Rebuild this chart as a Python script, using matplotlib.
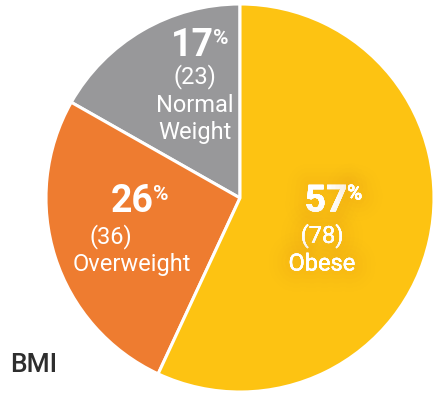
import matplotlib.pyplot as plt
import matplotlib.patheffects as pe

# BMI groups, counts and the rounded shares printed on the slices
groups = ['Normal\nWeight', 'Overweight', 'Obese']
counts = [23, 36, 78]
percents = [17, 26, 57]
colors = ['#98989A', '#EE7C30', '#FDC312']

fig = plt.figure(figsize=(4.38, 4.02), dpi=100)
ax = fig.add_axes([0, 0, 1, 1])

# gray starts at 12 o'clock and runs counter-clockwise, yellow fills the rest
wedges, _ = ax.pie(counts, colors=colors, startangle=90, counterclock=True,
                   center=(240, 203), radius=194,
                   wedgeprops=dict(edgecolor='white', linewidth=2.2))

# pie() sets its own limits, so put the pixel frame back afterwards
ax.set_xlim(0, 438)
ax.set_ylim(0, 402)
ax.set_aspect('equal')
ax.axis('off')

big = dict(family='Roboto', weight='bold', size=27, color='white', ha='center', va='center')
small = dict(family='Roboto', weight='normal', size=17, color='white', ha='center', va='center')
pct = dict(family='Roboto', weight='bold', size=15, color='white', ha='left', va='center')

# where each label block sits: (x of number, y of number, x of lines, y of first line)
spots = [(192, 357, 195, 325), (132, 200, 111, 165), (326, 200, 322, 165)]

# faint darker haze behind the text on the yellow slice
haze = [pe.withStroke(linewidth=w, foreground='#F29A1A', alpha=a)
        for w, a in [(30, 0.02), (24, 0.025), (18, 0.03), (12, 0.035), (6, 0.04)]]
glow = [None, None, haze]

for i in range(3):
    xn, yn, xl, yl = spots[i]
    t = ax.text(xn, yn, str(percents[i]), **big)
    p = ax.text(xn + 21, yn + 7, '%', **pct)
    lines = ['(%d)' % counts[i]] + groups[i].split('\n')
    ts = [t, p]
    for j, line in enumerate(lines):
        x = xl
        if i == 1 and j == 1:
            x = 132
        ts.append(ax.text(x, yl - 28 * j, line, **small))
    if glow[i]:
        for tt in ts:
            tt.set_path_effects(glow[i] + [pe.Normal()])

ax.text(10, 37, 'BMI', family='Roboto', weight='medium', size=19,
        color='#2E2E2E', ha='left', va='center')

fig.savefig('out.png', dpi=100)
